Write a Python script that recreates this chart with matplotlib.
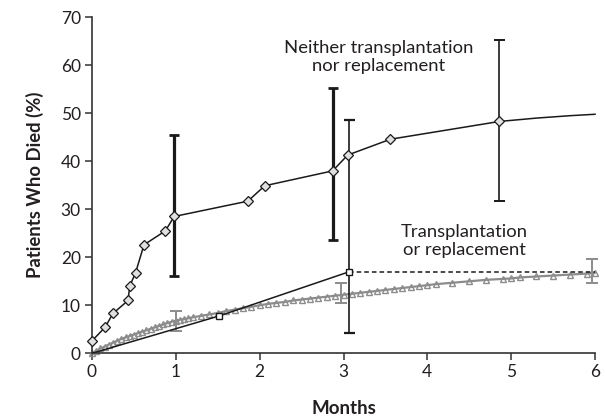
import matplotlib
matplotlib.use("Agg")
import matplotlib.pyplot as plt

plt.rcParams['font.family'] = ['Lato', 'DejaVu Sans']

# Neither transplantation nor replacement (black, diamonds)
nei_months = [0, 0.155, 0.25, 0.43, 0.45, 0.52, 0.62, 0.875, 0.98, 1.86, 2.06, 2.87, 3.05, 3.56, 4.86, 5.3, 5.7, 6.0]
nei_pct = [2.6, 5.4, 8.3, 11.0, 14.0, 16.8, 22.6, 25.5, 28.5, 31.7, 34.9, 38.0, 41.3, 44.6, 48.3, 49.0, 49.5, 49.8]
nei_marked = 15  # number of leading points drawn with a marker

# Error bars on the black curve
nei_err_x = [0.98, 2.87]
nei_err_lo = [16.0, 23.5]
nei_err_hi = [45.5, 55.2]
nei_err_thin_x = [4.86]
nei_err_thin_lo = [31.7]
nei_err_thin_hi = [65.2]

# Transplantation (black, squares)
tx_months = [0, 1.52, 3.07]
tx_pct = [0, 7.8, 17.0]
tx_err_x = [3.07]
tx_err_lo = [4.2]
tx_err_hi = [48.5]
tx_end_month = 6.0

# Transplantation or replacement (gray, triangles)
gray_months = [0, 0.05, 0.1, 0.15, 0.2, 0.25, 0.3, 0.35, 0.4, 0.45, 0.5, 0.55, 0.6, 0.65, 0.7,
               0.75, 0.8, 0.85, 0.9, 0.95, 1.0, 1.05, 1.1, 1.15, 1.2, 1.3, 1.4, 1.5, 1.6, 1.7,
               1.8, 1.9, 2.0, 2.1, 2.2, 2.3, 2.4, 2.5, 2.6, 2.7, 2.8, 2.9, 3.0, 3.1, 3.2,
               3.3, 3.4, 3.5, 3.6, 3.7, 3.8, 3.9, 4.0, 4.1, 4.3, 4.5, 4.7, 4.9, 5.0, 5.1,
               5.3, 5.5, 5.7, 5.9, 6.0]
gray_pct = [0, 0.5, 1.0, 1.4, 1.8, 2.2, 2.6, 3.0, 3.3, 3.6, 3.9, 4.2, 4.5, 4.8, 5.1,
            5.4, 5.7, 6.0, 6.3, 6.6, 6.8, 7.0, 7.1, 7.3, 7.5, 7.8, 8.1, 8.4, 8.8, 9.1,
            9.4, 9.7, 10.0, 10.3, 10.5, 10.7, 11.0, 11.2, 11.4, 11.6, 11.8, 12.0, 12.2, 12.4, 12.6,
            12.8, 13.0, 13.2, 13.4, 13.6, 13.8, 14.0, 14.2, 14.4, 14.7, 15.0, 15.3, 15.5, 15.6, 15.8,
            16.0, 16.2, 16.4, 16.6, 16.8]
gray_err_x = [1.0, 2.97, 5.96]
gray_err_lo = [4.7, 10.4, 14.6]
gray_err_hi = [8.9, 14.6, 19.6]

x_ticks = [0, 1, 2, 3, 4, 5, 6]
y_ticks = [0, 10, 20, 30, 40, 50, 60, 70]

BLACK = '#1a1a1a'
GRAY = '#8c8c8c'
TEXT = '#231f20'

fig = plt.figure(figsize=(6.05, 4.19), dpi=100)
ax = fig.add_axes([92 / 605, 65.7 / 419, 503 / 605, 336 / 419])

# gray series
ax.plot(gray_months, gray_pct, color=GRAY, lw=1.6, marker='^', ms=4.5,
        mfc='none', mec=GRAY, mew=1.0, zorder=2, clip_on=False)
for x, lo, hi in zip(gray_err_x, gray_err_lo, gray_err_hi):
    ax.errorbar([x], [(lo + hi) / 2], yerr=[[(hi - lo) / 2], [(hi - lo) / 2]],
                fmt='none', ecolor=GRAY, elinewidth=1.4, capsize=4, capthick=1.4,
                zorder=2, clip_on=False)

# transplantation squares
ax.plot(tx_months, tx_pct, color=BLACK, lw=1.1, zorder=3)
ax.plot(tx_months[1:], tx_pct[1:], ls='none', marker='s', ms=5, mfc='white',
        mec=BLACK, mew=1.0, zorder=4)
ax.plot([tx_months[-1], tx_end_month], [tx_pct[-1], tx_pct[-1]], color=BLACK,
        lw=1.1, ls=(0, (3, 2)), zorder=3, clip_on=False)
for x, lo, hi in zip(tx_err_x, tx_err_lo, tx_err_hi):
    ax.vlines(x, lo, hi, color=BLACK, lw=1.2, zorder=3)
    ax.hlines([lo, hi], x - 0.07, x + 0.07, color=BLACK, lw=1.6, zorder=3)

# black diamond series
ax.plot(nei_months, nei_pct, color=BLACK, lw=1.1, zorder=3, clip_on=False)
ax.plot(nei_months[:nei_marked], nei_pct[:nei_marked], ls='none', marker='D', ms=5,
        mfc='#e0e0e0', mec=BLACK, mew=0.9, zorder=4, clip_on=False)
for x, lo, hi in zip(nei_err_x, nei_err_lo, nei_err_hi):
    ax.vlines(x, lo, hi, color=BLACK, lw=2.3, zorder=3)
    ax.hlines([lo, hi], x - 0.06, x + 0.06, color=BLACK, lw=2.0, zorder=3)
for x, lo, hi in zip(nei_err_thin_x, nei_err_thin_lo, nei_err_thin_hi):
    ax.vlines(x, lo, hi, color=BLACK, lw=1.2, zorder=3)
    ax.hlines([lo, hi], x - 0.07, x + 0.07, color=BLACK, lw=1.4, zorder=3)

ax.set_xlim(0, 6)
ax.set_ylim(0, 70)
ax.set_xticks(x_ticks)
ax.set_yticks(y_ticks)
ax.spines['top'].set_visible(False)
ax.spines['right'].set_visible(False)
for s in ('left', 'bottom'):
    ax.spines[s].set_color('#333333')
    ax.spines[s].set_linewidth(1.2)
ax.tick_params(direction='out', length=5, width=1.1, color='#333333',
               labelsize=12.5, labelcolor=TEXT, pad=3)

ax.set_xlabel('Months', fontsize=13.5, fontweight='bold', color=TEXT, labelpad=14)
ax.set_ylabel('Patients Who Died (%)', fontsize=13.3, fontweight='bold', color=TEXT, labelpad=12)

ax.text(3.42, 61.7, 'Neither transplantation\nnor replacement', ha='center', va='center',
        fontsize=13.3, color=TEXT, linespacing=1.1)
ax.text(4.44, 23.4, 'Transplantation\nor replacement', ha='center', va='center',
        fontsize=13.3, color=TEXT, linespacing=1.1)

fig.savefig('out.png', dpi=100)
